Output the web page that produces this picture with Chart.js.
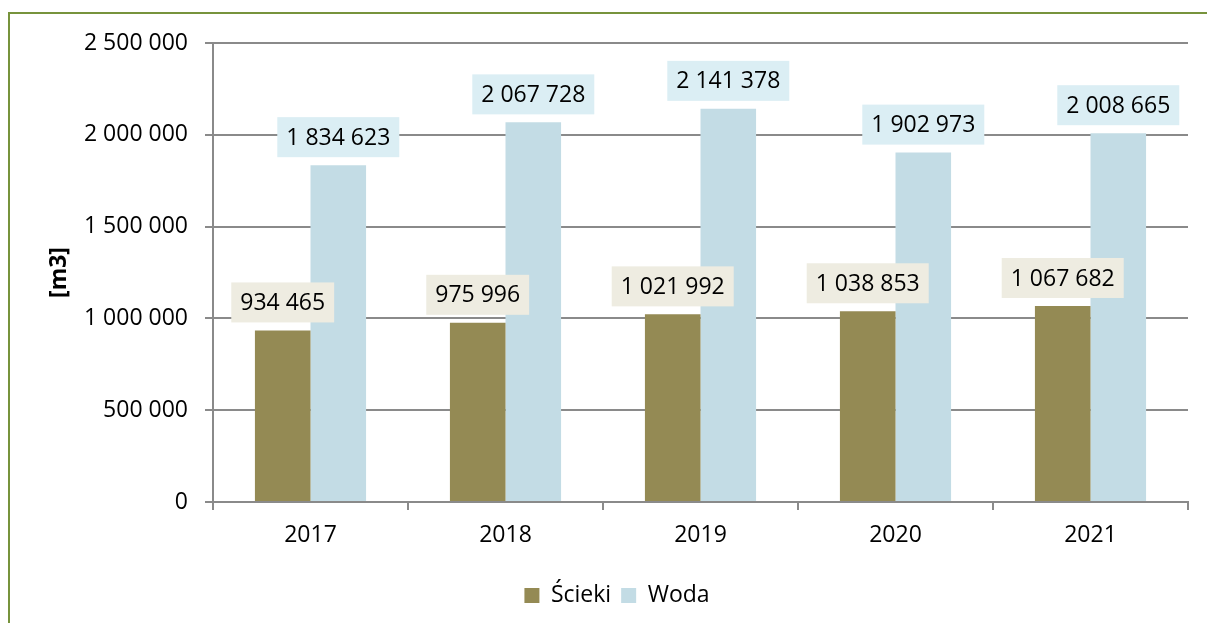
<!DOCTYPE html>
<html>
<head>
<meta charset="utf-8">
<script src="https://cdn.jsdelivr.net/npm/chart.js@4/dist/chart.umd.min.js"></script>
<style>
    html, body { margin: 0; padding: 0; background: #fff; }
    #wrap { position: relative; width: 1207px; height: 623px; overflow: hidden; }
    #frame { position: absolute; left: 8px; top: 12px; width: 1300px; height: 700px; border-left: 2px solid #77933c; border-top: 2px solid #77933c; }
    #chart { position: absolute; left: 0; top: 0; }
</style>
</head>
<body>
<div id="wrap">
    <div id="frame"></div>
    <canvas id="chart" width="1207" height="623"></canvas>
</div>
<script>
const years = ['2017', '2018', '2019', '2020', '2021'];
const sciekiValues = [934465, 975996, 1021992, 1038853, 1067682];
const wodaValues = [1834623, 2067728, 2141378, 1902973, 2008665];
const seriesNames = ['Ścieki', 'Woda'];

const FONT = '"Open Sans", "Noto Sans", sans-serif';

// number with spaces as thousand separator
function formatNumber(v) {
    return String(v).replace(/\B(?=(\d{3})+(?!\d))/g, ' ');
}

// boxes with the values above each bar
const valueLabels = {
    id: 'valueLabels',
    afterDatasetsDraw(chart) {
        const ctx = chart.ctx;
        ctx.save();
        ctx.font = '23px ' + FONT;
        ctx.textAlign = 'center';
        ctx.textBaseline = 'middle';
        chart.data.datasets.forEach((ds, i) => {
            const meta = chart.getDatasetMeta(i);
            meta.data.forEach((bar, j) => {
                const text = formatNumber(ds.data[j]);
                const w = ctx.measureText(text).width + 18;
                const h = 40;
                const bottom = bar.y - 8;
                ctx.fillStyle = ds.labelBg;
                ctx.fillRect(bar.x - w / 2, bottom - h, w, h);
                ctx.fillStyle = '#000';
                ctx.fillText(text, bar.x, bottom - h / 2 + 1);
            });
        });
        ctx.restore();
    }
};

new Chart(document.getElementById('chart'), {
    type: 'bar',
    data: {
        labels: years,
        datasets: [
            { label: seriesNames[0], data: sciekiValues, backgroundColor: '#948a54', labelBg: '#eeece1' },
            { label: seriesNames[1], data: wodaValues, backgroundColor: '#c3dce5', labelBg: '#dbeef4' }
        ]
    },
    options: {
        responsive: false,
        animation: false,
        devicePixelRatio: 1,
        layout: { padding: { left: 46, top: 43, right: 19, bottom: 6 } },
        datasets: { bar: { barPercentage: 1, categoryPercentage: 0.57 } },
        scales: {
            x: {
                grid: { offset: true, drawOnChartArea: false, color: '#8a8a8a', lineWidth: 2, tickLength: 8 },
                border: { color: '#8a8a8a', width: 2 },
                ticks: { color: '#000', font: { family: FONT, size: 23 }, padding: 12 },
                afterFit(scale) { scale.height = 72; }
            },
            y: {
                min: 0,
                max: 2500000,
                ticks: {
                    stepSize: 500000,
                    color: '#000',
                    font: { family: FONT, size: 23 },
                    padding: 17,
                    callback: v => formatNumber(v)
                },
                grid: { color: '#8a8a8a', lineWidth: 2, tickLength: 8 },
                border: { color: '#8a8a8a', width: 2 },
                title: {
                    display: true,
                    text: '[m3]',
                    color: '#000',
                    font: { family: FONT, size: 23, weight: 'bold' },
                    padding: 0
                },
                afterFit(scale) { scale.width = 167; }
            }
        },
        plugins: {
            legend: {
                position: 'bottom',
                labels: {
                    color: '#000',
                    font: { family: FONT, size: 23 },
                    boxWidth: 15,
                    boxHeight: 15,
                    padding: 10
                }
            },
            tooltip: { enabled: false }
        }
    },
    plugins: [valueLabels]
});
</script>
</body>
</html>
